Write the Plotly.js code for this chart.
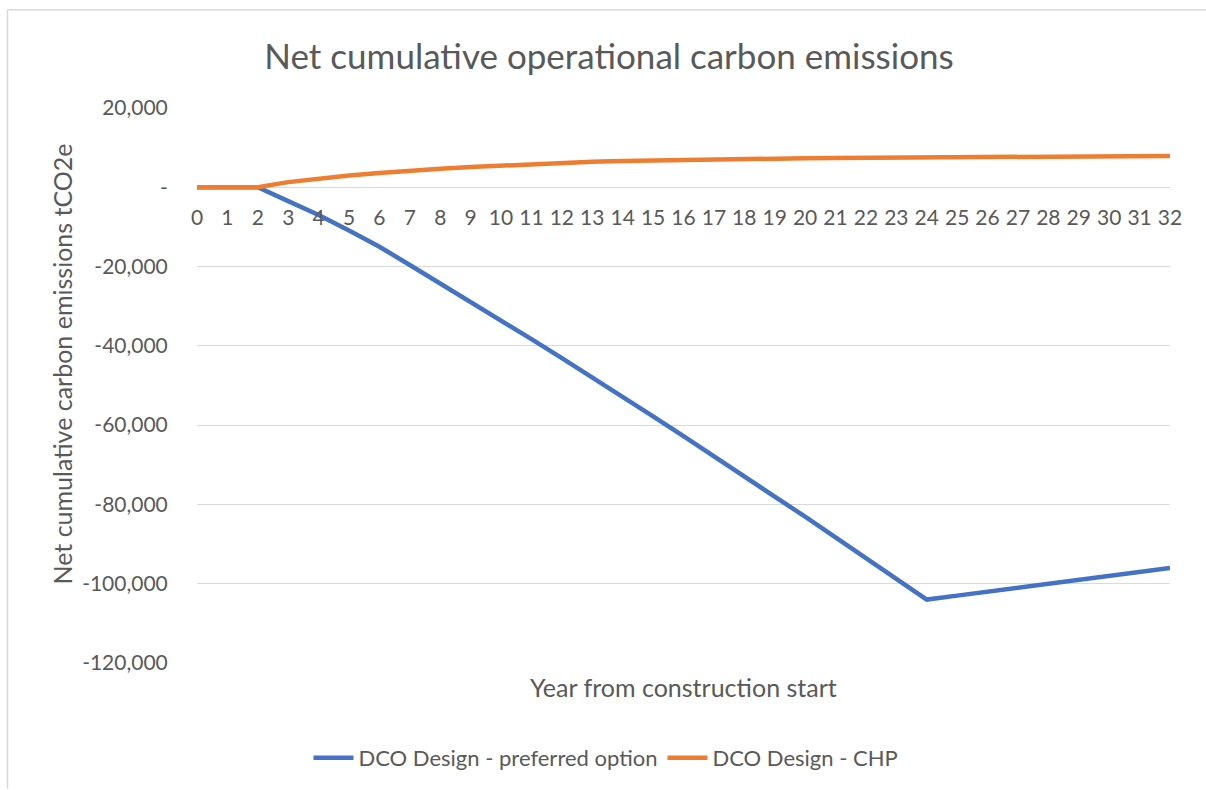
<!DOCTYPE html>
<html>
<head>
<meta charset="utf-8">
<script src="https://cdn.plot.ly/plotly-3.0.1.min.js"></script>
<style>html,body{margin:0;padding:0;background:#fff;}#chart{width:1206px;height:790px;}</style>
</head>
<body>
<div id="chart"></div>
<script>
const years = [0,1,2,3,4,5,6,7,8,9,10,11,12,13,14,15,16,17,18,19,20,21,22,23,24,25,26,27,28,29,30,31,32];
const preferred = [0,0,0,-3500,-7000,-10900,-15000,-19600,-24200,-28900,-33500,-38300,-43100,-47900,-52800,-57800,-62800,-67800,-72900,-78000,-83100,-88300,-93500,-98700,-104000,-103000,-102000,-101000,-99900,-98800,-97800,-96900,-96000];
const chp = [0,0,0,1300,2200,2950,3600,4200,4700,5100,5500,5900,6200,6450,6650,6800,6950,7050,7150,7250,7320,7400,7450,7500,7560,7610,7660,7710,7760,7800,7840,7870,7900];
const yTickVals = [20000,0,-20000,-40000,-60000,-80000,-100000,-120000];
const yTickText = ["20,000","-","-20,000","-40,000","-60,000","-80,000","-100,000","-120,000"];
const seriesNames = ["DCO Design - preferred option","DCO Design - CHP"];
const titleText = "Net cumulative operational carbon emissions";
const xTitle = "Year from construction start";
const yTitle = "Net cumulative carbon emissions tCO2e";

const FONT = "Lato, 'Open Sans', sans-serif";
const GREY = "#595959";

const traces = [
  {x: years, y: preferred, name: seriesNames[0], type: "scatter", mode: "lines",
   line: {color: "#4472C4", width: 4.5}},
  {x: years, y: chp, name: seriesNames[1], type: "scatter", mode: "lines",
   line: {color: "#ED7D31", width: 4.5}}
];

const L = 197, R = 36, T = 108, B = 126;
const W = 1206, H = 790;
const pw = W - L - R, ph = H - T - B;
const px = v => (v - L) / pw;
const py = v => (H - B - v) / ph;

const layout = {
  width: W, height: H,
  margin: {l: L, r: R, t: T, b: B, pad: 0},
  paper_bgcolor: "#fff", plot_bgcolor: "#fff",
  font: {family: FONT, color: GREY, size: 21},
  title: {text: titleText, font: {family: FONT, size: 35, color: GREY}, x: 0.505, xanchor: "center", y: 1 - 57/H, yanchor: "middle"},
  showlegend: true,
  legend: {orientation: "h", x: px(606), xanchor: "center", y: py(758), yanchor: "middle",
           font: {family: FONT, size: 22, color: GREY}, itemwidth: 40, traceorder: "normal"},
  xaxis: {
    range: [0, 32], tickmode: "array", tickvals: years, ticktext: years.map(String),
    showgrid: false, zeroline: false, showline: false,
    anchor: "free", position: py(187),
    ticks: "outside", ticklen: 12, tickcolor: "rgba(0,0,0,0)",
    tickfont: {family: FONT, size: 21, color: GREY}, fixedrange: true
  },
  yaxis: {
    range: [-120000, 20000], tickmode: "array", tickvals: yTickVals, ticktext: yTickText,
    showgrid: true, gridcolor: "#d9d9d9", gridwidth: 1, zeroline: false, showline: false,
    ticks: "outside", ticklen: 24, tickcolor: "rgba(0,0,0,0)",
    tickfont: {family: FONT, size: 21, color: GREY}, fixedrange: true
  },
  annotations: [
    {text: xTitle, xref: "paper", yref: "paper", x: px(683), y: py(688), xanchor: "center", yanchor: "middle",
     showarrow: false, font: {family: FONT, size: 25, color: GREY}},
    {text: yTitle, xref: "paper", yref: "paper", x: px(62), y: py(365), xanchor: "center", yanchor: "middle",
     textangle: -90, showarrow: false, font: {family: FONT, size: 25, color: GREY}}
  ],
  shapes: [
    {type: "line", xref: "paper", yref: "paper", x0: px(7.5), x1: px(1206), y0: py(9.5), y1: py(9.5),
     line: {color: "#d9d9d9", width: 1.5}},
    {type: "line", xref: "paper", yref: "paper", x0: px(7.5), x1: px(7.5), y0: py(9.5), y1: py(790),
     line: {color: "#d9d9d9", width: 1.5}}
  ]
};

Plotly.newPlot("chart", traces, layout, {displayModeBar: false, staticPlot: true});
</script>
</body>
</html>
